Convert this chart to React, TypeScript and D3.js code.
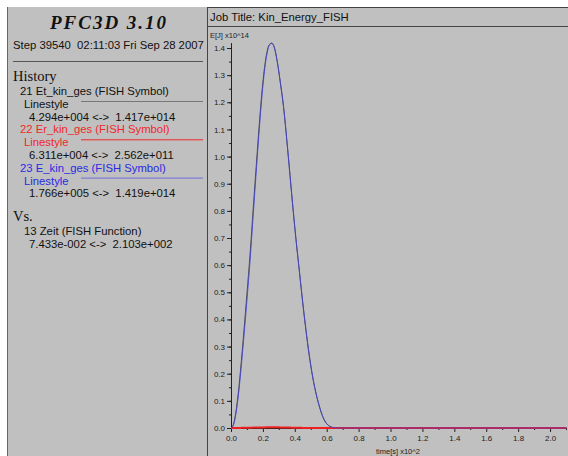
import * as d3 from "d3";
import { useRef, useEffect } from "react";

// time in units of x10^2 s
const timeVals = [0, 0.01, 0.02, 0.03, 0.04, 0.05, 0.06, 0.08, 0.1, 0.12, 0.14, 0.16, 0.18, 0.2, 0.22, 0.24, 0.255, 0.27, 0.29, 0.31, 0.33, 0.35, 0.37, 0.39, 0.41, 0.43, 0.45, 0.47, 0.49, 0.51, 0.53, 0.55, 0.57, 0.59, 0.61, 0.63, 0.66, 0.7, 0.9, 1.2, 1.5, 1.8, 2.103];
// energies in units of x10^14 J
const eKinGes = [0, 0.005, 0.02, 0.05, 0.09, 0.14, 0.2, 0.33, 0.47, 0.62, 0.79, 0.96, 1.12, 1.26, 1.36, 1.41, 1.419, 1.405, 1.35, 1.27, 1.18, 1.06, 0.93, 0.8, 0.68, 0.57, 0.46, 0.36, 0.27, 0.195, 0.135, 0.088, 0.05, 0.024, 0.01, 0.003, 0.0005, 0, 0, 0, 0, 0, 0];
const etKinGes = [0, 0.006, 0.024, 0.056, 0.1, 0.152, 0.215, 0.35, 0.495, 0.645, 0.815, 0.98, 1.14, 1.275, 1.368, 1.412, 1.417, 1.405, 1.35, 1.27, 1.18, 1.06, 0.93, 0.8, 0.68, 0.57, 0.46, 0.36, 0.27, 0.195, 0.135, 0.088, 0.05, 0.024, 0.01, 0.003, 0.0005, 0, 0, 0, 0, 0, 0];
const erKinGes = [0, 0, 0, 0.0001, 0.0002, 0.0003, 0.0004, 0.0006, 0.0009, 0.0012, 0.0015, 0.0018, 0.002, 0.0022, 0.0024, 0.0025, 0.00256, 0.0025, 0.0024, 0.0022, 0.002, 0.0017, 0.0014, 0.0011, 0.0008, 0.0006, 0.0004, 0.0003, 0.0002, 0.0001, 0.0001, 0, 0, 0, 0, 0, 0, 0, 0, 0, 0, 0, 0];

const xTicks = [0, 0.2, 0.4, 0.6, 0.8, 1.0, 1.2, 1.4, 1.6, 1.8, 2.0];
const yTicks = [0, 0.1, 0.2, 0.3, 0.4, 0.5, 0.6, 0.7, 0.8, 0.9, 1.0, 1.1, 1.2, 1.3, 1.4];

const historyItems = [
    { label: "21 Et_kin_ges (FISH Symbol)", range: "4.294e+004 <->  1.417e+014", color: "#111", line: "#777" },
    { label: "22 Er_kin_ges (FISH Symbol)", range: "6.311e+004 <->  2.562e+011", color: "#f0282a", line: "#f0282a" },
    { label: "23 E_kin_ges (FISH Symbol)", range: "1.766e+005 <->  1.419e+014", color: "#2a2ae0", line: "#6f6fe0" },
];

const W = 568;
const H = 456;
const sans = "'Liberation Sans', Arial, sans-serif";
const serif = "'Liberation Serif', 'Times New Roman', serif";

const App = () => {
    const svgRef = useRef<SVGSVGElement>(null);

    useEffect(() => {
        const svg = d3.select(svgRef.current);
        svg.selectAll(".plot").remove();
        const g = svg.append("g").attr("class", "plot");

        const x = d3.scaleLinear().domain([0, 2.1]).range([231, 566]);
        const y = d3.scaleLinear().domain([0, 1.42]).range([428, 42.6]);

        // minor ticks
        const yMinor = d3.axisLeft(y)
            .tickValues(d3.range(0, 1.42, 0.05))
            .tickSize(2)
            .tickFormat(() => "");
        g.append("g").attr("transform", `translate(${x(0)},0)`).call(yMinor)
            .call(a => a.select(".domain").remove());
        const xMinor = d3.axisBottom(x)
            .tickValues(d3.range(0.1, 2.11, 0.2))
            .tickSize(2)
            .tickFormat(() => "");
        g.append("g").attr("transform", `translate(0,${y(0)})`).call(xMinor)
            .call(a => a.select(".domain").remove());

        // major axes
        const yAxis = d3.axisLeft(y)
            .tickValues(yTicks)
            .tickSize(4)
            .tickSizeOuter(0)
            .tickPadding(2)
            .tickFormat(d3.format(".1f"));
        g.append("g").attr("transform", `translate(${x(0)},0)`).call(yAxis);

        const xAxis = d3.axisBottom(x)
            .tickValues(xTicks)
            .tickSize(4)
            .tickSizeOuter(0)
            .tickPadding(3)
            .tickFormat(d3.format(".1f"));
        g.append("g").attr("transform", `translate(0,${y(0)})`).call(xAxis);

        g.selectAll(".tick text")
            .attr("font-family", sans)
            .attr("font-size", "8px")
            .attr("fill", "#222");
        g.selectAll(".tick line, .domain").attr("stroke", "#222");

        // series
        const line = d3.line<number>()
            .x((d, i) => x(timeVals[i]))
            .y(d => y(d))
            .curve(d3.curveMonotoneX);

        g.append("path").datum(etKinGes)
            .attr("fill", "none").attr("stroke", "#303030").attr("stroke-width", 0.8)
            .attr("d", line);
        g.append("path").datum(erKinGes)
            .attr("fill", "none").attr("stroke", "#f02020").attr("stroke-width", 2)
            .attr("d", line);
        g.append("path").datum(eKinGes)
            .attr("fill", "none").attr("stroke", "#4040d8").attr("stroke-width", 0.8)
            .attr("d", line);

        // axis labels
        g.append("text")
            .attr("x", 210).attr("y", 38)
            .attr("font-family", sans).attr("font-size", "7.5px").attr("fill", "#222")
            .text("E[J] x10^14");
        g.append("text")
            .attr("x", 376).attr("y", 454)
            .attr("font-family", sans).attr("font-size", "7.5px").attr("fill", "#222")
            .text("time[s] x10^2");
    }, []);

    let yy = 95;
    const rows: JSX.Element[] = [];
    historyItems.forEach((item, i) => {
        rows.push(
            <text key={`l${i}`} x={20} y={yy} fill={item.color} fontSize="11.3px" fontFamily={sans}>{item.label}</text>,
            <text key={`s${i}`} x={24} y={yy + 13} fill={item.color} fontSize="11.3px" fontFamily={sans}>Linestyle</text>,
            <line key={`n${i}`} x1={81} x2={203} y1={yy + 6.5} y2={yy + 6.5} stroke={item.line} strokeWidth={1} />,
            <text key={`r${i}`} x={29} y={yy + 25.5} fill="#111" fontSize="11.3px" fontFamily={sans} style={{ whiteSpace: "pre" }}>{item.range}</text>
        );
        yy += 38.3;
    });

    return (
        <div style={{ position: "absolute", left: 0, top: 0 }}>
            <svg ref={svgRef} width={W} height={H} style={{ display: "block" }}>
                <rect x={0} y={0} width={W} height={H} fill="#fff" />
                <rect x={8} y={7} width={W - 8} height={H - 7} fill="#c0c0c0" />
                <line x1={7.5} x2={7.5} y1={7} y2={H} stroke="#666" />
                <line x1={207.5} x2={207.5} y1={7} y2={H} stroke="#444" />
                <line x1={207} x2={W} y1={7.5} y2={7.5} stroke="#444" />
                <line x1={207} x2={W} y1={26.5} y2={26.5} stroke="#444" />

                <text x={108} y={29} textAnchor="middle" fontFamily={serif} fontSize="19px" fontWeight="bold" fontStyle="italic" fill="#111" textLength={116} lengthAdjust="spacing">PFC3D 3.10</text>
                <text x={13} y={49} fontFamily={sans} fontSize="11.3px" fill="#111" style={{ whiteSpace: "pre" }}>Step 39540  02:11:03 Fri Sep 28 2007</text>
                <line x1={13} x2={203} y1={61.5} y2={61.5} stroke="#555" />
                <text x={13} y={81} fontFamily={serif} fontSize="14.5px" fill="#111">History</text>
                {rows}
                <text x={13} y={221} fontFamily={serif} fontSize="14.5px" fill="#111">Vs.</text>
                <text x={24} y={235} fontFamily={sans} fontSize="11.3px" fill="#111">13 Zeit (FISH Function)</text>
                <text x={29} y={248} fontFamily={sans} fontSize="11.3px" fill="#111" style={{ whiteSpace: "pre" }}>{"7.433e-002 <->  2.103e+002"}</text>

                <text x={210} y={21} fontFamily={sans} fontSize="11.3px" fill="#111">Job Title: Kin_Energy_FISH</text>
            </svg>
        </div>
    );
};

export default App;
